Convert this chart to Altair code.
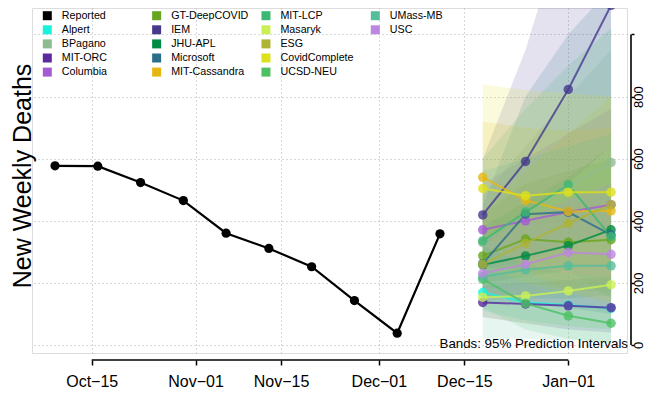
import altair as alt
import pandas as pd

# ---------------- data ----------------
origin = "2021-10-15"
reported_dates = ["2021-10-09", "2021-10-16", "2021-10-23", "2021-10-30", "2021-11-06",
                  "2021-11-13", "2021-11-20", "2021-11-27", "2021-12-04", "2021-12-11"]
reported_values = [577, 576, 523, 465, 360, 311, 252, 143, 38, 358]

forecast_dates = ["2021-12-18", "2021-12-25", "2022-01-01", "2022-01-08"]

models = ["Alpert", "BPagano", "MIT-ORC", "Columbia", "GT-DeepCOVID", "IEM", "JHU-APL",
          "Microsoft", "MIT-Cassandra", "MIT-LCP", "Masaryk", "ESG", "CovidComplete",
          "UCSD-NEU", "UMass-MB", "USC"]
model_colors = ["#19f3dc", "#8fbc8f", "#5a2a9e", "#a55ad4", "#66a61e", "#463a8c", "#008b45",
                "#2b6e8b", "#e6b711", "#3cb872", "#caf055", "#aeb434", "#dde11a",
                "#4cc063", "#55bd9b", "#bd86e0"]

fc_median = {
    "Alpert":        [169, 137, 129, 118],
    "BPagano":       [330, 420, 510, 588],
    "MIT-ORC":       [137, 132, 126, 120],
    "Columbia":      [371, 400, 428, 452],
    "GT-DeepCOVID":  [287, 341, 331, 339],
    "IEM":           [419, 591, 823, 1094],
    "JHU-APL":       [258, 287, 320, 371],
    "Microsoft":     [262, 421, 428, 355],
    "MIT-Cassandra": [540, 466, 430, 432],
    "MIT-LCP":       [335, 428, 516, 349],
    "Masaryk":       [154, 158, 174, 194],
    "ESG":           [260, 328, 392, 452],
    "CovidComplete": [504, 481, 492, 492],
    "UCSD-NEU":      [212, 134, 94, 70],
    "UMass-MB":      [220, 242, 255, 255],
    "USC":           [231, 260, 298, 292],
}
fc_lower = {
    "Alpert":        [110, 80, 60, 50],
    "BPagano":       [200, 220, 240, 260],
    "MIT-ORC":       [90, 70, 50, 40],
    "Columbia":      [250, 240, 230, 220],
    "GT-DeepCOVID":  [180, 200, 180, 170],
    "IEM":           [320, 420, 520, 640],
    "JHU-APL":       [160, 150, 150, 160],
    "Microsoft":     [130, 140, 120, 100],
    "MIT-Cassandra": [360, 240, 170, 130],
    "MIT-LCP":       [200, 220, 240, 150],
    "Masaryk":       [90, 70, 60, 50],
    "ESG":           [140, 160, 180, 200],
    "CovidComplete": [250, 200, 170, 140],
    "UCSD-NEU":      [120, 50, 20, 5],
    "UMass-MB":      [20, 20, 15, 10],
    "USC":           [150, 140, 130, 110],
}
fc_upper = {
    "Alpert":        [240, 220, 210, 200],
    "BPagano":       [480, 640, 800, 950],
    "MIT-ORC":       [190, 200, 210, 220],
    "Columbia":      [520, 600, 680, 760],
    "GT-DeepCOVID":  [420, 520, 560, 600],
    "IEM":           [600, 950, 1400, 2000],
    "JHU-APL":       [380, 460, 540, 640],
    "Microsoft":     [450, 800, 1000, 1150],
    "MIT-Cassandra": [720, 700, 690, 700],
    "MIT-LCP":       [600, 760, 900, 1020],
    "Masaryk":       [240, 270, 320, 380],
    "ESG":           [420, 560, 680, 800],
    "CovidComplete": [840, 820, 810, 800],
    "UCSD-NEU":      [320, 260, 230, 220],
    "UMass-MB":      [560, 600, 640, 680],
    "USC":           [340, 400, 470, 520],
}

legend_names = ["Reported"] + models
legend_colors = ["#000000"] + model_colors

tick_dates = ["2021-10-15", "2021-11-01", "2021-11-15", "2021-12-01", "2021-12-15", "2022-01-01"]
tick_labels = ["Oct\u221215", "Nov\u221201", "Nov\u221215", "Dec\u221201", "Dec\u221215", "Jan\u221201"]
y_ticks = [0, 200, 400, 600, 800, 1000]

# ---------------- tables ----------------
o = pd.Timestamp(origin)
def days(ds):
    return [(pd.Timestamp(d) - o).days for d in ds]

rep = pd.DataFrame({"day": days(reported_dates), "value": reported_values})
rows = []
for m in models:
    for d, md, lo, hi in zip(days(forecast_dates), fc_median[m], fc_lower[m], fc_upper[m]):
        rows.append({"model": m, "day": d, "med": md, "lo": max(lo, 0), "hi": hi})
fc = pd.DataFrame(rows)
tick_days = days(tick_dates)

leg = pd.DataFrame({"name": legend_names,
                    "col": [i // 5 for i in range(len(legend_names))],
                    "row": [i % 5 for i in range(len(legend_names))]})

label_expr = "''"
for d, l in zip(tick_days, tick_labels):
    label_expr = f"datum.value == {d} ? '{l}' : ({label_expr})"

FONT = "Liberation Sans"
xscale = alt.Scale(domain=[-9.77, 87.61], nice=False, zero=False)
yscale = alt.Scale(domain=[-25.8, 1085.3], nice=False, zero=False)
xaxis = alt.Axis(values=tick_days, labelExpr=label_expr, grid=True, gridDash=[1, 3],
                 gridColor="#b0b0b0", domain=False, tickSize=5, tickWidth=1.5, tickColor="black",
                 offset=7, labelFontSize=16, labelPadding=8, labelColor="black", labelFont=FONT,
                 title=None)
yaxis = alt.Axis(orient="right", values=y_ticks,
                 labelExpr="datum.value == 1000 ? '' : datum.label",
                 grid=True, gridDash=[1, 3], gridColor="#b0b0b0", domain=False, tickSize=3,
                 tickWidth=1.5, tickColor="black", offset=4, labelAngle=270, labelFontSize=13,
                 labelPadding=-2, labelColor="black", labelFont=FONT, title=None)

color = alt.Color("model:N", scale=alt.Scale(domain=legend_names, range=legend_colors), legend=None)
X = alt.X("day:Q", scale=xscale, axis=xaxis, title=None)

bands = alt.Chart(fc).mark_area(opacity=0.15, clip=True).encode(
    x=X, y=alt.Y("lo:Q", scale=yscale, axis=yaxis, title=None), y2="hi:Q", color=color)
lines = alt.Chart(fc).mark_line(strokeWidth=2, opacity=0.8).encode(
    x=X, y=alt.Y("med:Q", scale=yscale, axis=yaxis, title=None), color=color)
pts = alt.Chart(fc).mark_circle(size=90, opacity=0.8).encode(
    x=X, y=alt.Y("med:Q", scale=yscale, axis=yaxis, title=None), color=color)
rline = alt.Chart(rep).mark_line(color="black", strokeWidth=2.2).encode(
    x=X, y=alt.Y("value:Q", scale=yscale, axis=yaxis, title=None))
rpts = alt.Chart(rep).mark_circle(color="black", size=85, opacity=1).encode(
    x=X, y=alt.Y("value:Q", scale=yscale, axis=yaxis, title=None))

xline = alt.Chart(pd.DataFrame({"day": [tick_days[0]], "day2": [tick_days[-1]]})).mark_rule(
    color="black", strokeWidth=1.6).encode(x=X, x2="day2:Q", y=alt.value(352))
yline = alt.Chart(pd.DataFrame({"v": [y_ticks[0]], "v2": [y_ticks[-1]]})).mark_rule(
    color="black", strokeWidth=1.6).encode(
    y=alt.Y("v:Q", scale=yscale, axis=yaxis, title=None), y2="v2:Q", x=alt.value(599))

one = pd.DataFrame({"t": ["New Weekly Deaths"], "b": ["Bands: 95% Prediction Intervals"]})
ytitle = alt.Chart(one).mark_text(angle=270, fontSize=25, font=FONT, align="center",
                                  baseline="alphabetic", color="black").encode(
    x=alt.value(-1), y=alt.value(168), text="t:N")
note = alt.Chart(one).mark_text(fontSize=13.3, font=FONT, align="right", baseline="middle",
                                color="black").encode(
    x=alt.value(596), y=alt.value(336), text="b:N")

main = alt.layer(bands, lines, pts, rline, rpts, xline, yline, ytitle, note)

LX = alt.X("col:Q", scale=alt.Scale(domain=[0, 3], range=[15.3, 343.3]), axis=None)
LY = alt.Y("row:Q", scale=alt.Scale(domain=[0, 4], range=[7.7, 64.1]), axis=None)
lsq = alt.Chart(leg).mark_square(size=81, opacity=1).encode(
    x=LX, y=LY, color=alt.Color("name:N", scale=alt.Scale(domain=legend_names, range=legend_colors), legend=None))
ltx = alt.Chart(leg).mark_text(align="left", baseline="middle", dx=14.5, fontSize=10.7,
                               font=FONT, color="black").encode(x=LX, y=LY, text="name:N")
legend = alt.layer(lsq, ltx)

chart = alt.layer(main, legend).resolve_scale(x="independent", y="independent").properties(
    width=595, height=345, autosize="none",
    padding={"left": 24, "top": 0, "right": 20, "bottom": 42},
).configure_view(stroke=None).configure(background="white")

chart.save("out.html", embed_options={"renderer": "svg", "actions": False})
